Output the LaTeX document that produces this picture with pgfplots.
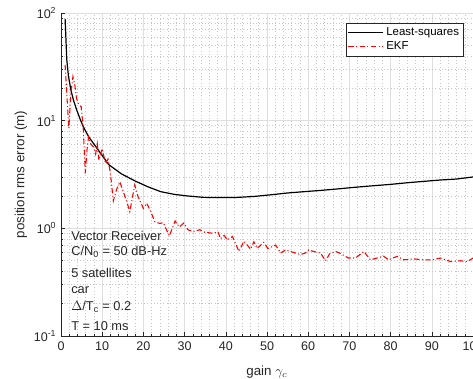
\documentclass[border=0pt]{standalone}
\usepackage{pgfplots}
\pgfplotsset{compat=1.18}
\usepackage{fontspec}
\setmainfont{Liberation Sans}
\definecolor{axgray}{RGB}{38,38,38}
\begin{document}
\begin{tikzpicture}
\begin{axis}[
  scale only axis, width=309pt, height=242.25pt,
  xmin=0, xmax=100, ymin=0.1, ymax=100, ymode=log,
  axis x line*=bottom, axis y line*=left,
  axis line style={axgray, line width=0.5pt},
  xtick={0,10,...,100}, minor x tick num=4,
  ytick={0.1,1,10,100},
  yticklabels={10\textsuperscript{-1},10\textsuperscript{0},10\textsuperscript{1},10\textsuperscript{2}},
  tick align=inside, major tick length=3pt, minor tick length=1.8pt,
  tick style={axgray, line width=0.4pt},
  grid=both,
  major grid style={gray!25, line width=0.4pt},
  minor grid style={gray!45, line width=0.4pt, dotted},
  /pgf/number format/assume math mode=true,
  ticklabel style={font=\fontsize{9.4}{11}\selectfont, text=axgray},
  xticklabel style={yshift=-1pt},
  xlabel={gain $\gamma_c$},
  ylabel={position rms error (m)},
  label style={font=\fontsize{10}{12}\selectfont, text=axgray},
  xlabel style={at={(axis description cs:0.5,0)}, anchor=base, yshift=-29.25pt},
  ylabel style={at={(axis description cs:-0.0971,0.5)}, anchor=center},
  legend style={at={(rel axis cs:0.978,0.969)}, anchor=north east,
    draw=axgray, line width=0.4pt, font=\fontsize{8.6}{10}\selectfont,
    inner sep=1.5pt, row sep=-1pt, fill=white},
  legend cell align=left,
  legend image code/.code={\draw[#1] (0pt,0pt) -- (26pt,0pt);},
]
\addplot[black, line width=0.9pt] coordinates {
(1,88) (1.4,37) (1.8,26) (2.4,19.3) (3,15.6) (3.8,12.6) (4.7,10.2) (5.4,8.8)
(6.7,7.1) (9.1,5.3) (11.6,3.9) (14.7,3.2) (18,2.75) (21,2.44) (24.2,2.19)
(27.4,2.07) (30.6,2.0) (34.6,1.94) (38.7,1.93) (42,1.93) (47,1.98) (51,2.05)
(55,2.13) (59,2.19) (63,2.25) (67,2.32) (71,2.40) (76,2.49) (80,2.56)
(84,2.65) (88,2.73) (92,2.81) (96,2.87) (100,3.0)
};
\addlegendentry{Least-squares}
\addplot[red, line width=0.8pt, dash pattern=on 4pt off 1.8pt on 0.8pt off 1.8pt] coordinates {
(1,33) (1.4,18) (1.9,8.5) (2.4,18) (2.9,25.6) (3.3,22) (3.8,16) (4.3,14)
(4.9,13.5) (5.4,8.5) (5.9,3.24) (6.3,5.3) (6.7,7.1) (7.3,6.0) (7.9,5.7)
(8.4,4.9) (8.8,6.1) (9.2,4.3) (10,5.5) (10.8,4.0) (11.4,4.4) (12,3.24)
(12.7,1.8) (13.5,2.3) (14.3,2.7) (15.1,2.19) (15.9,1.8) (16.7,1.43)
(17.9,2.53) (18.7,1.97) (20,1.53) (20.8,1.71) (21.6,1.48) (22.8,1.15)
(24,1.11) (24.8,1.13) (26.3,0.85) (27.7,1.17) (28.7,1.03) (29.8,1.12)
(30.8,0.97) (32.2,0.93) (33.7,0.97) (34.9,0.92) (36.9,0.90) (38.1,0.93)
(38.7,0.80) (39.6,0.86) (40.4,0.78) (41.6,0.84) (43.2,0.61) (44.4,0.76)
(45.2,0.70) (46,0.64) (46.8,0.75) (47.6,0.65) (49.2,0.74) (50.2,0.65)
(51,0.67) (52.1,0.70) (53.3,0.59) (54.5,0.63) (55.7,0.61) (56.9,0.59)
(58.1,0.57) (59.3,0.59) (60.1,0.63) (61.3,0.61) (63,0.59) (64.2,0.50)
(65.2,0.58) (66.7,0.61) (68,0.58) (69.7,0.53) (71.5,0.53) (73.5,0.61)
(75.1,0.51) (76.7,0.53) (78.3,0.55) (79.5,0.51) (81.6,0.55) (83.2,0.51)
(85.6,0.52) (88.1,0.51) (90.1,0.51) (92.1,0.53) (94.6,0.49) (97,0.50)
(98.6,0.49) (100,0.53)
};
\addlegendentry{EKF}
\begin{scope}[every node/.style={anchor=base west, inner sep=0pt, font=\fontsize{9.6}{11}\selectfont, text=axgray}]
\node at (rel axis cs:0.0243,0.2972) {Vector Receiver};
\node at (rel axis cs:0.0243,0.2477) {C/N\textsubscript{0} = 50 dB-Hz};
\node at (rel axis cs:0.0243,0.1817) {5 satellites};
\node at (rel axis cs:0.0243,0.1322) {car};
\node at (rel axis cs:0.0243,0.0805) {$\Delta$/T\textsubscript{c} = 0.2};
\node at (rel axis cs:0.0243,0.0155) {T = 10 ms};
\end{scope}
\end{axis}
\pgfresetboundingbox
\path[use as bounding box] (-45.75pt,-31.5pt) rectangle (309pt,252pt);
\end{tikzpicture}
\end{document}
